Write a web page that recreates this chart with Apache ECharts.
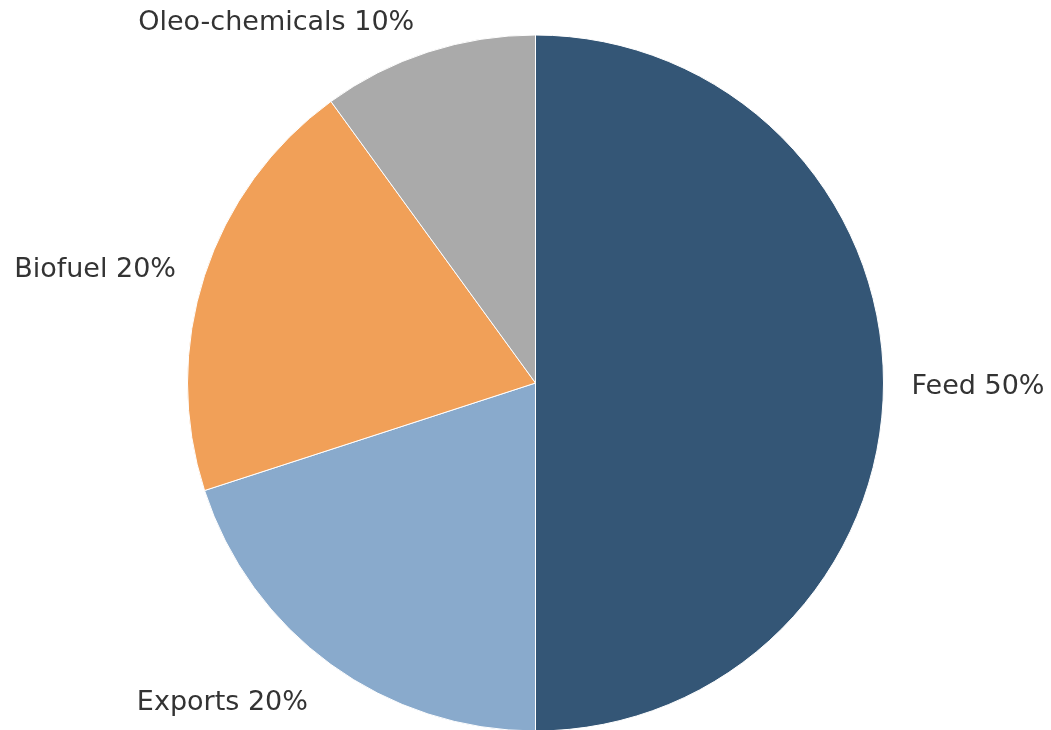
<!DOCTYPE html>
<html>
<head>
<meta charset="utf-8">
<script src="https://cdn.jsdelivr.net/npm/echarts@6/dist/echarts.min.js"></script>
<style>
html,body{margin:0;padding:0;background:#fff;}
#chart{width:1051px;height:730px;}
</style>
</head>
<body>
<div id="chart"></div>
<script>
const categories = ['Feed', 'Exports', 'Biofuel', 'Oleo-chemicals'];
const values = [50, 20, 20, 10];
const colors = ['#345676', '#89AACC', '#F1A058', '#AAAAAA'];
// label line geometry per slice (styles only)
const lineLen = [20, 42.6, 30, 34.7];
const lineLen2 = [3, 0, 0, 0];
const labelDist = [5, -2, 0, 3];

const data = categories.map((c, i) => ({
  name: c,
  value: values[i],
  itemStyle: { color: colors[i] },
  label: { distanceToLabelLine: labelDist[i] },
  labelLine: { show: false, length: lineLen[i], length2: lineLen2[i] }
}));

const chart = echarts.init(document.getElementById('chart'), null, { renderer: 'canvas' });
chart.setOption({
  animation: false,
  backgroundColor: '#ffffff',
  series: [{
    type: 'pie',
    center: [535.5, 383],
    radius: 348,
    startAngle: 90,
    clockwise: true,
    avoidLabelOverlap: false,
    itemStyle: { borderColor: '#ffffff', borderWidth: 1 },
    label: {
      show: true,
      position: 'outside',
      formatter: p => p.name + ' ' + p.value + '%',
      fontFamily: 'DejaVu Sans',
      fontSize: 27,
      color: '#333333'
    },
    labelLayout: function () { return { dy: 4 }; },
    labelLine: { show: false },
    emphasis: { disabled: true },
    data: data
  }]
});
</script>
</body>
</html>
